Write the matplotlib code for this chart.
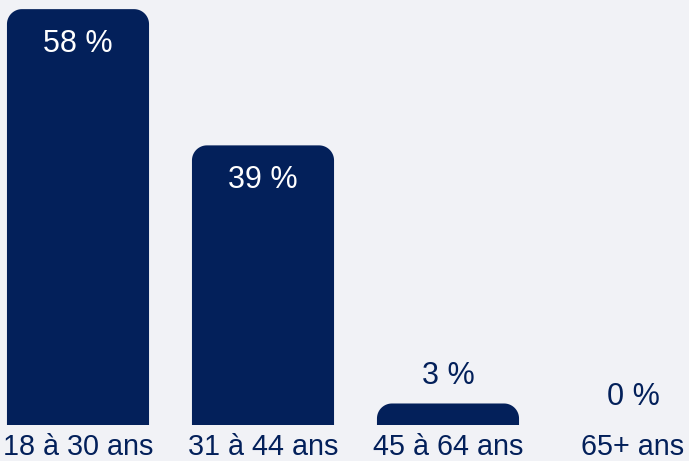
import numpy as np
import matplotlib
matplotlib.use('Agg')
import matplotlib.pyplot as plt
from matplotlib.path import Path
from matplotlib.patches import PathPatch

# Data
categories = ['18 à 30 ans', '31 à 44 ans', '45 à 64 ans', '65+ ans']
values = [58, 39, 3, 0]

navy = '#03205A'
bg = '#F1F2F6'

plt.rcParams['font.family'] = ['Liberation Sans', 'DejaVu Sans']

fig = plt.figure(figsize=(6.89, 4.61), dpi=100, facecolor=bg)
ax = fig.add_axes([0, 36 / 461, 1, 1 - 36 / 461])
ax.set_facecolor(bg)

x = np.arange(len(categories))
bars = ax.bar(x, values, width=0.768, color=navy)

ax.set_xlim(-78 / 185, (689 - 78) / 185)
ax.set_ylim(0, (461 - 36) / 7.17)


def round_top(ax, rect, r_px=15):
    # swap a plain bar for one with rounded top corners
    x0, y0 = rect.get_x(), rect.get_y()
    w, h = rect.get_width(), rect.get_height()
    rect.set_visible(False)
    if h <= 0:
        return
    p0 = ax.transData.transform((0, 0))
    p1 = ax.transData.transform((1, 1))
    sx, sy = p1[0] - p0[0], p1[1] - p0[1]
    rx = r_px / sx
    ry = min(r_px / sy, h)
    t = np.linspace(0, np.pi / 2, 20)
    pts = [(x0, y0)]
    for a in t:
        pts.append((x0 + rx - rx * np.cos(a), y0 + h - ry + ry * np.sin(a)))
    for b in t:
        pts.append((x0 + w - rx + rx * np.sin(b), y0 + h - ry + ry * np.cos(b)))
    pts.append((x0 + w, y0))
    pts.append((x0, y0))
    ax.add_patch(PathPatch(Path(pts, closed=True), facecolor=navy, edgecolor='none'))


for b in bars:
    round_top(ax, b)

# value labels
for xi, v in zip(x, values):
    if v >= 10:
        ax.annotate(f'{v} %', (xi, v), xytext=(0, -25), textcoords='offset points',
                    ha='center', va='center', color='white', fontsize=22)
    else:
        ax.annotate(f'{v} %', (xi, v), xytext=(0, 20), textcoords='offset points',
                    ha='center', va='center', color=navy, fontsize=22)

ax.set_xticks(x)
ax.set_xticklabels(categories, fontsize=20.7, color=navy)
ax.tick_params(axis='x', length=0, pad=5.5)
ax.set_yticks([])
for s in ax.spines.values():
    s.set_visible(False)

fig.savefig('out.png', dpi=100, facecolor=bg)
